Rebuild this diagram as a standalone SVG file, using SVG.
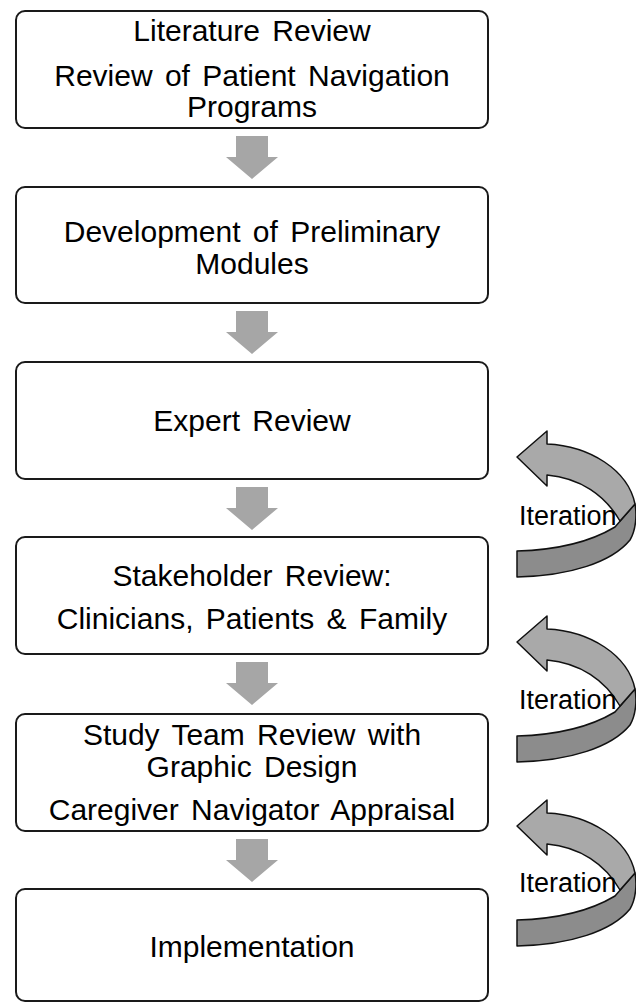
<svg xmlns="http://www.w3.org/2000/svg" width="636" height="1003" viewBox="0 0 636 1003">
  <style>
    .box { fill: #ffffff; stroke: #1a1a1a; stroke-width: 2; }
    .t { font-family: "Liberation Sans", Arial, sans-serif; font-size: 30px; fill: #000; text-anchor: middle; word-spacing: 4px; }
    .it { font-family: "Liberation Sans", Arial, sans-serif; font-size: 27px; fill: #000; }
    .down { fill: #a6a6a6; }
    .light { fill: #a9a9a9; stroke: #111; stroke-width: 1.5; stroke-linejoin: round; }
    .dark { fill: #8c8c8c; stroke: #111; stroke-width: 1.5; stroke-linejoin: round; }
  </style>
  <defs>
    <g id="iter">
      <path class="dark" d="M118,47 L98,70 C73,85 38,93 0,94 L0,120 C53,119 95,105 113,83 C119,73 120,58 118,47 Z"/>
      <path class="light" d="M0,0 L30,-26 L30,-13 C73,-11 111,13 118,47 L103,64 C88,38 63,21 30,18 L30,29 Z"/>
    </g>
  </defs>
  <rect width="636" height="1003" fill="#ffffff"/>

  <g id="connectors">
    <polygon class="down" points="236,136 268,136 268,157 278,157 252,179 226,157 236,157"/>
    <polygon class="down" points="236,311 268,311 268,332 278,332 252,354 226,332 236,332"/>
    <polygon class="down" points="236,487 268,487 268,508 278,508 252,530 226,508 236,508"/>
    <polygon class="down" points="236,662 268,662 268,683 278,683 252,705 226,683 236,683"/>
    <polygon class="down" points="236,839 268,839 268,860 278,860 252,882 226,860 236,860"/>
    <g id="iteration1">
      <use href="#iter" transform="translate(517,457)"/>
      <text class="it" x="519" y="525">Iteration</text>
    </g>
    <g id="iteration2">
      <use href="#iter" transform="translate(517,642)"/>
      <text class="it" x="519" y="709">Iteration</text>
    </g>
    <g id="iteration3">
      <use href="#iter" transform="translate(517,826)"/>
      <text class="it" x="519" y="892">Iteration</text>
    </g>
  </g>

  <g id="node1">
    <rect class="box" x="16" y="11" width="472" height="117" rx="9"/>
    <text class="t" x="252" y="41">Literature Review</text>
    <text class="t" x="252" y="86">Review of Patient Navigation</text>
    <text class="t" x="252" y="117">Programs</text>
  </g>
  <g id="node2">
    <rect class="box" x="16" y="187" width="472" height="116" rx="9"/>
    <text class="t" x="252" y="242">Development of Preliminary</text>
    <text class="t" x="252" y="274">Modules</text>
  </g>
  <g id="node3">
    <rect class="box" x="16" y="362" width="472" height="117" rx="9"/>
    <text class="t" x="252" y="431">Expert Review</text>
  </g>
  <g id="node4">
    <rect class="box" x="16" y="537" width="472" height="117" rx="9"/>
    <text class="t" x="252" y="586">Stakeholder Review:</text>
    <text class="t" x="252" y="629">Clinicians, Patients &amp; Family</text>
  </g>
  <g id="node5">
    <rect class="box" x="16" y="714" width="472" height="117" rx="9"/>
    <text class="t" x="252" y="745">Study Team Review with</text>
    <text class="t" x="252" y="777">Graphic Design</text>
    <text class="t" x="252" y="820">Caregiver Navigator Appraisal</text>
  </g>
  <g id="node6">
    <rect class="box" x="16" y="889" width="472" height="112" rx="9"/>
    <text class="t" x="252" y="957">Implementation</text>
  </g>
</svg>
